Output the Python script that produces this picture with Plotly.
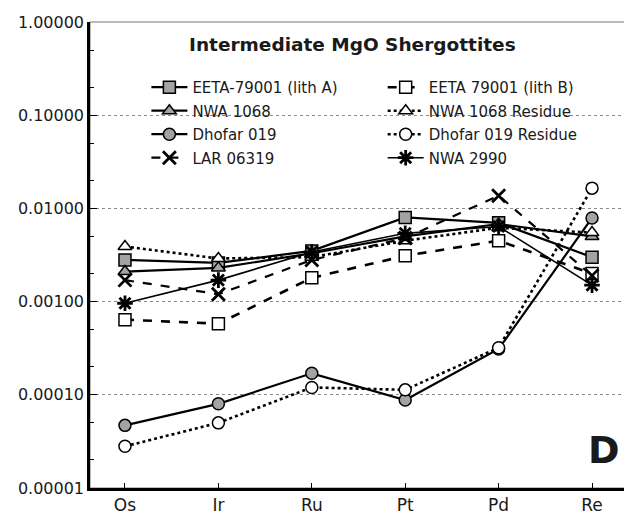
# Intermediate MgO Shergottites - HSE abundance pattern (panel D)

import plotly.graph_objects as go


# elements along the x axis
ELEMENTS = ["Os", "Ir", "Ru", "Pt", "Pd", "Re"]

# y axis ticks (log scale)
Y_TICKS = [0.00001, 0.0001, 0.001, 0.01, 0.1, 1.0]
Y_LABELS = ["0.00001", "0.00010", "0.00100", "0.01000", "0.10000", "1.00000"]

# values
eeta_a = [0.0028, 0.0026, 0.0035, 0.0080, 0.0070, 0.0030]
eeta_b = [0.00064, 0.00058, 0.0018, 0.0031, 0.0045, 0.0020]
nwa1068 = [0.0021, 0.0023, 0.0033, 0.0050, 0.0068, 0.0050]
nwa1068_res = [0.0039, 0.0029, 0.0030, 0.0045, 0.0062, 0.0055]
dhofar = [0.000047, 0.000080, 0.00017, 0.000088, 0.00031, 0.0079]
dhofar_res = [0.000028, 0.000050, 0.00012, 0.000113, 0.00032, 0.0165]
lar = [0.0017, 0.0012, 0.0028, 0.0048, 0.0137, 0.0019]
nwa2990 = [0.00096, 0.0017, 0.0034, 0.0054, 0.0064, 0.0015]

GREY = "#a3a3a3"
FONT = "DejaVu Sans"

# name, values, dash, line width, symbol, fill, legend
SERIES = [
    ("EETA-79001 (lith A)", eeta_a, "solid", 2.2, "square", GREY, "legend"),
    ("EETA 79001 (lith B)", eeta_b, "dash", 2.6, "square", "white", "legend2"),
    ("NWA 1068", nwa1068, "solid", 2.2, "triangle-up", GREY, "legend"),
    ("NWA 1068 Residue", nwa1068_res, "dot", 2.6, "triangle-up", "white", "legend2"),
    ("Dhofar 019", dhofar, "solid", 2.2, "circle", GREY, "legend"),
    ("Dhofar 019 Residue", dhofar_res, "dot", 2.6, "circle", "white", "legend2"),
    ("LAR 06319", lar, "dash", 2.2, "x-thin", "black", "legend"),
    ("NWA 2990", nwa2990, "solid", 1.6, "asterisk", "black", "legend2"),
]

fig = go.Figure()

for name, vals, dash, lw, symbol, fill, leg in SERIES:
    if symbol in ("x-thin", "asterisk"):
        marker = dict(symbol=symbol, size=13, color="black",
                      line=dict(color="black", width=2.8))
    else:
        marker = dict(symbol=symbol, size=12, color=fill,
                      line=dict(color="black", width=1.5))
    fig.add_trace(go.Scatter(
        x=ELEMENTS,
        y=vals,
        name=name,
        mode="lines+markers",
        line=dict(color="black", width=lw, dash=dash),
        marker=marker,
        legend=leg,
        legendgroup=name
    ))

# thin grey frame on top / right
fig.add_shape(type="rect", xref="paper", yref="paper", x0=0, x1=1, y0=0, y1=1,
              line=dict(color="#777777", width=1), layer="below")

fig.add_annotation(
    text="<b>Intermediate MgO Shergottites</b>",
    xref="paper", yref="paper", x=0.488, y=0.979,
    showarrow=False, font=dict(family=FONT, size=18.5, color="#1a1a1a")
)
fig.add_annotation(
    text="<b>D</b>",
    xref="paper", yref="paper", x=0.99, y=0.03,
    xanchor="right", yanchor="bottom",
    showarrow=False, font=dict(family=FONT, size=38, color="#1a1a1a")
)

legend_style = dict(
    bgcolor="rgba(0,0,0,0)",
    font=dict(family=FONT, size=15, color="#1a1a1a"),
    itemwidth=36,
    traceorder="grouped",
    tracegroupgap=1,
    xanchor="left",
    yanchor="top"
)

# the page body has an 8px margin, so the figure is shrunk by that much
fig.update_layout(
    width=624,
    height=512,
    margin=dict(l=82, r=5, t=10, b=32),
    plot_bgcolor="white",
    paper_bgcolor="white",
    font=dict(family=FONT, size=14, color="#1a1a1a"),
    legend=dict(x=0.105, y=0.895, **legend_style),
    legend2=dict(x=0.545, y=0.895, **legend_style),
    xaxis=dict(
        type="category",
        showline=True, linecolor="black", linewidth=2.5,
        ticks="inside", ticklen=5, tickcolor="black",
        showgrid=False,
        tickfont=dict(family=FONT, size=17, color="#1a1a1a")
    ),
    yaxis=dict(
        type="log",
        range=[-5, 0],
        tickvals=Y_TICKS,
        ticktext=Y_LABELS,
        showline=True, linecolor="black", linewidth=2.5,
        ticks="inside", ticklen=7, tickcolor="black",
        showgrid=True, gridcolor="#8a8a8a", griddash="dot", gridwidth=1,
        minor=dict(ticks="inside", ticklen=4, tickcolor="black", showgrid=False),
        tickfont=dict(family=FONT, size=16, color="#1a1a1a"),
        zeroline=False
    ),
    showlegend=True
)

fig.write_html("out.html")
